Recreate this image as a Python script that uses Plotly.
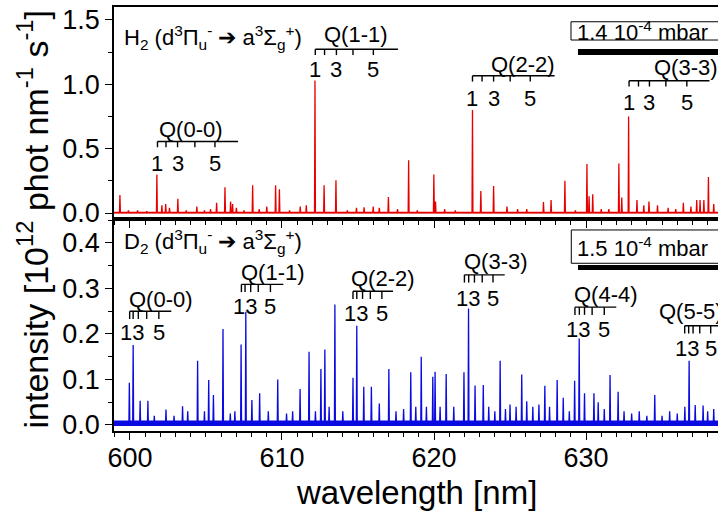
import plotly.graph_objects as go
from plotly.subplots import make_subplots

# ---------------- data ----------------
# H2 spectrum: line positions [nm] and peak intensities [1e12 phot nm-1 s-1]
h2_nm = [599.34, 599.9, 600.5, 601.1, 601.77, 602.1, 602.35, 602.6, 603.15, 603.7,
         604.4, 604.9, 605.3, 605.7, 606.25, 606.62, 606.75, 607.0, 607.5, 608.07,
         608.5, 609.0, 609.58, 609.83, 610.5, 611.2, 611.6, 612.17, 612.77, 613.55,
         614.3, 614.9, 615.4, 616.0, 616.4, 617.0, 617.6, 618.33, 618.9, 619.99,
         620.1, 620.7, 621.4, 622.53, 623.08, 623.92, 624.8, 625.5, 626.1, 627.2,
         627.7, 628.61, 629.3, 630.06, 630.2, 630.44, 631.0, 631.5, 632.16, 632.35,
         632.8, 633.35, 633.8, 634.14, 634.7, 635.4, 635.9, 636.4, 636.9, 637.28,
         637.5, 637.75, 638.05, 638.4]
h2_int = [0.14, 0.02, 0.02, 0.015, 0.30, 0.06, 0.07, 0.04, 0.11, 0.02,
          0.05, 0.02, 0.03, 0.08, 0.20, 0.09, 0.07, 0.04, 0.02, 0.215,
          0.03, 0.05, 0.215, 0.185, 0.02, 0.05, 0.06, 1.03, 0.215, 0.255,
          0.02, 0.04, 0.045, 0.05, 0.04, 0.125, 0.03, 0.41, 0.02, 0.30,
          0.09, 0.03, 0.02, 0.80, 0.17, 0.21, 0.05, 0.03, 0.03, 0.085,
          0.10, 0.25, 0.02, 0.38, 0.13, 0.145, 0.03, 0.03, 0.385, 0.12,
          0.75, 0.10, 0.06, 0.09, 0.06, 0.04, 0.03, 0.08, 0.05, 0.10,
          0.10, 0.10, 0.28, 0.07]

# D2 spectrum
d2_nm = [599.96, 600.21, 600.67, 601.18, 601.6, 602.37, 602.9, 603.46, 603.8, 604.45,
         604.9, 605.18, 605.49, 606.12, 606.6, 606.9, 607.31, 607.62, 608.02, 608.53,
         609.1, 609.72, 610.3, 610.7, 611.19, 611.78, 612.2, 612.56, 612.82, 613.1,
         613.48, 614.0, 614.67, 614.92, 615.38, 615.88, 616.4, 617.03, 617.5, 618.0,
         618.47, 618.8, 619.16, 619.5, 619.92, 620.07, 620.4, 620.8, 621.3, 621.97,
         622.27, 622.7, 623.24, 623.6, 624.0, 624.35, 624.7, 625.0, 625.4, 625.77,
         626.1, 626.5, 626.9, 627.29, 627.6, 628.1, 628.5, 628.9, 629.25, 629.55,
         629.9, 630.52, 630.8, 631.2, 631.58, 632.11, 632.5, 633.0, 633.5, 634.0,
         634.52, 635.0, 635.5, 636.0, 636.5, 636.78, 637.18, 637.7, 638.0, 638.4]
d2_int = [0.093, 0.176, 0.053, 0.053, 0.02, 0.034, 0.02, 0.041, 0.03, 0.141,
          0.03, 0.099, 0.066, 0.211, 0.025, 0.03, 0.177, 0.249, 0.055, 0.07,
          0.03, 0.10, 0.025, 0.03, 0.079, 0.161, 0.03, 0.123, 0.166, 0.04,
          0.265, 0.03, 0.104, 0.218, 0.084, 0.084, 0.047, 0.123, 0.03, 0.035,
          0.116, 0.04, 0.150, 0.04, 0.106, 0.117, 0.04, 0.112, 0.04, 0.116,
          0.256, 0.087, 0.088, 0.04, 0.03, 0.141, 0.035, 0.045, 0.04, 0.111,
          0.052, 0.04, 0.045, 0.086, 0.04, 0.099, 0.06, 0.03, 0.097, 0.19,
          0.07, 0.07, 0.05, 0.035, 0.11, 0.073, 0.03, 0.025, 0.03, 0.02,
          0.066, 0.02, 0.03, 0.025, 0.04, 0.141, 0.044, 0.043, 0.03, 0.035]

# baseline level and noise envelope of each spectrum
h2_base = 0.003
h2_noise = [-0.003, 0.009]
d2_base = 0.004
d2_noise = [-0.002, 0.010]

# Q-branch line positions (combs)
h2_q_names = ["Q(0-0)", "Q(1-1)", "Q(2-2)", "Q(3-3)"]
h2_q_pos = [[601.81, 602.37, 603.13, 604.27, 605.59],
            [612.19, 612.80, 613.58, 614.67, 616.01],
            [622.53, 623.16, 623.92, 625.01, 626.33],
            [632.83, 633.45, 634.17, 635.25, 636.63]]
h2_q_end = [607.11, 617.63, 627.93, 638.12]
h2_q_level = [0.556, 1.272, 1.066, 1.028]
h2_q_label_x = [604.0, 614.9, 625.86, 636.55]
h2_q_label_y = [0.65, 1.385, 1.155, 1.128]
h2_q_num_y = [0.388, 1.113, 0.89, 0.855]

d2_q_names = ["Q(0-0)", "Q(1-1)", "Q(2-2)", "Q(3-3)", "Q(4-4)", "Q(5-5)"]
d2_q_pos = [[599.98, 600.21, 600.55, 601.10, 601.90],
            [607.33, 607.57, 607.94, 608.44, 609.24],
            [614.67, 614.92, 615.30, 615.81, 616.57],
            [622.00, 622.28, 622.66, 623.17, 623.88],
            [629.27, 629.56, 629.90, 630.40, 631.20],
            [636.49, 636.75, 637.04, 637.48, 638.20]]
d2_q_end = [602.72, 610.09, 617.30, 624.65, 631.99, 639.5]
d2_q_level = [0.250, 0.309, 0.294, 0.330, 0.259, 0.218]
d2_q_label_x = [602.05, 609.38, 616.67, 624.1, 631.34, 636.9]
d2_q_label_y = [0.276, 0.336, 0.322, 0.359, 0.286, 0.249]
d2_q_num_y = [0.204, 0.261, 0.245, 0.278, 0.209, 0.169]

x_range = [598.95, 638.68]
y1_range = [-0.0466, 1.6006]
y2_range = [-0.0132, 0.4527]

red = "rgb(232,0,0)"
blue = "rgb(10,10,225)"
font = "Liberation Sans, Arial, sans-serif"


def sticks(nm, inten, base, w=0.03):
    pairs = sorted(zip(nm, inten))
    xs = [x_range[0]]
    ys = [base]
    for c, h in pairs:
        xs += [c - w, c, c + w]
        ys += [base, h, base]
    xs.append(x_range[1])
    ys.append(base)
    return xs, ys


def comb(pos_list, end_list, level_list, tick):
    xs, ys = [], []
    for pos, end, lev in zip(pos_list, end_list, level_list):
        xs += [pos[0], end, None]
        ys += [lev, lev, None]
        for p in pos:
            xs += [p, p, None]
            ys += [lev, lev - tick, None]
    return xs, ys


fig = make_subplots(rows=2, cols=1, shared_xaxes=True, vertical_spacing=0)

# noise envelopes
for row, noise, col in [(1, h2_noise, red), (2, d2_noise, blue)]:
    fig.add_trace(go.Scatter(x=x_range, y=[noise[0]] * 2, mode="lines",
                             line=dict(width=0, color=col), showlegend=False,
                             hoverinfo="skip"), row=row, col=1)
    fig.add_trace(go.Scatter(x=x_range, y=[noise[1]] * 2, mode="lines",
                             line=dict(width=0, color=col), fill="tonexty",
                             fillcolor=col, opacity=0.75, showlegend=False,
                             hoverinfo="skip"), row=row, col=1)

hx, hy = sticks(h2_nm, h2_int, h2_base)
fig.add_trace(go.Scatter(x=hx, y=hy, mode="lines", line=dict(color=red, width=1.3),
                         showlegend=False), row=1, col=1)
dx, dy = sticks(d2_nm, d2_int, d2_base)
fig.add_trace(go.Scatter(x=dx, y=dy, mode="lines", line=dict(color=blue, width=1.3),
                         showlegend=False), row=2, col=1)

# combs
cx, cy = comb(h2_q_pos, h2_q_end, h2_q_level, 0.045)
fig.add_trace(go.Scatter(x=cx, y=cy, mode="lines", line=dict(color="black", width=1.4),
                         showlegend=False), row=1, col=1)
cx, cy = comb(d2_q_pos, d2_q_end, d2_q_level, 0.017)
fig.add_trace(go.Scatter(x=cx, y=cy, mode="lines", line=dict(color="black", width=1.4),
                         showlegend=False), row=2, col=1)

ann = []


def add_text(x, y, text, yref, size=22, xanchor="center", xref="x"):
    ann.append(dict(x=x, y=y, xref=xref, yref=yref, text=text, showarrow=False,
                    xanchor=xanchor, yanchor="middle",
                    font=dict(family=font, size=size, color="black")))


for name, pos, lx, ly, ny in zip(h2_q_names, h2_q_pos, h2_q_label_x, h2_q_label_y, h2_q_num_y):
    add_text(lx, ly, name, "y")
    for i in (0, 2, 4):
        add_text(pos[i], ny, str(i + 1), "y")

for name, pos, lx, ly, ny in zip(d2_q_names, d2_q_pos, d2_q_label_x, d2_q_label_y, d2_q_num_y):
    add_text(lx, ly, name, "y2")
    # lines 1 and 3 are so close that their numbers read as one "13"
    add_text((pos[0] + pos[2]) / 2 - 0.1, ny, "13", "y2")
    add_text(pos[4], ny, "5", "y2")

add_text(599.47, 1.367,
         "H<sub>2</sub> (d<sup>3</sup>Π<sub>u</sub><sup>-</sup> ➔ a<sup>3</sup>Σ<sub>g</sub><sup>+</sup>)",
         "y", size=22, xanchor="left")
add_text(599.47, 0.403,
         "D<sub>2</sub> (d<sup>3</sup>Π<sub>u</sub><sup>-</sup> ➔ a<sup>3</sup>Σ<sub>g</sub><sup>+</sup>)",
         "y2", size=22, xanchor="left")

# pressure boxes
shapes = []
shapes.append(dict(type="rect", xref="x", yref="y", x0=629.01, x1=641, y0=1.344, y1=1.486,
                   line=dict(color="black", width=1), fillcolor="white", layer="above"))
shapes.append(dict(type="rect", xref="x", yref="y", x0=629.47, x1=641, y0=1.228, y1=1.274,
                   line=dict(width=0), fillcolor="black", layer="above"))
shapes.append(dict(type="rect", xref="x2", yref="y2", x0=629.03, x1=641, y0=0.3554, y1=0.4286,
                   line=dict(color="black", width=1), fillcolor="white", layer="above"))
shapes.append(dict(type="rect", xref="x2", yref="y2", x0=629.47, x1=641, y0=0.3407, y1=0.3516,
                   line=dict(width=0), fillcolor="black", layer="above"))
add_text(629.25, 1.415, "1.4 10<sup>-4</sup> mbar", "y", size=22, xanchor="left")
add_text(629.25, 0.392, "1.5 10<sup>-4</sup> mbar", "y2", size=22, xanchor="left")

# axis titles
ann.append(dict(x=-0.135, y=0.5, xref="paper", yref="paper", textangle=-90,
                text="intensity [10<sup>12</sup> phot nm<sup>-1</sup> s<sup>-1</sup>]",
                showarrow=False, xanchor="center", yanchor="middle",
                font=dict(family=font, size=34, color="black")))
ann.append(dict(x=0.5, y=-0.146, xref="paper", yref="paper", text="wavelength [nm]",
                showarrow=False, xanchor="center", yanchor="middle",
                font=dict(family=font, size=33, color="black")))

xcommon = dict(range=x_range, tick0=600, dtick=10, ticks="outside", ticklen=7, tickwidth=1.3,
               tickcolor="black", showline=True, linecolor="black", linewidth=1.5,
               mirror=True, showgrid=False, zeroline=False, ticklabelstandoff=-5,
               minor=dict(dtick=1, ticks="outside", ticklen=4, tickcolor="black", tickwidth=1.1),
               tickfont=dict(family=font, size=27, color="black"))
fig.update_xaxes(**xcommon)
fig.update_xaxes(showticklabels=False, row=1, col=1)

ycommon = dict(ticks="outside", ticklen=7, tickwidth=1.3, tickcolor="black", showline=True,
               linecolor="black", linewidth=1.5, mirror=False, showgrid=False, zeroline=False,
               tickformat=".1f", tickfont=dict(family=font, size=27, color="black"))
fig.update_yaxes(range=y1_range, tick0=0, dtick=0.5,
                 minor=dict(dtick=0.25, ticks="outside", ticklen=4, tickcolor="black"),
                 row=1, col=1, **ycommon)
fig.update_yaxes(range=y2_range, tick0=0, dtick=0.1,
                 minor=dict(dtick=0.05, ticks="outside", ticklen=4, tickcolor="black"),
                 row=2, col=1, **ycommon)

fig.update_layout(width=718, height=511, margin=dict(l=114, r=0, t=7, b=80),
                  plot_bgcolor="white", paper_bgcolor="white",
                  annotations=ann, shapes=shapes, showlegend=False,
                  font=dict(family=font, color="black"))

fig.write_html("out.html")
